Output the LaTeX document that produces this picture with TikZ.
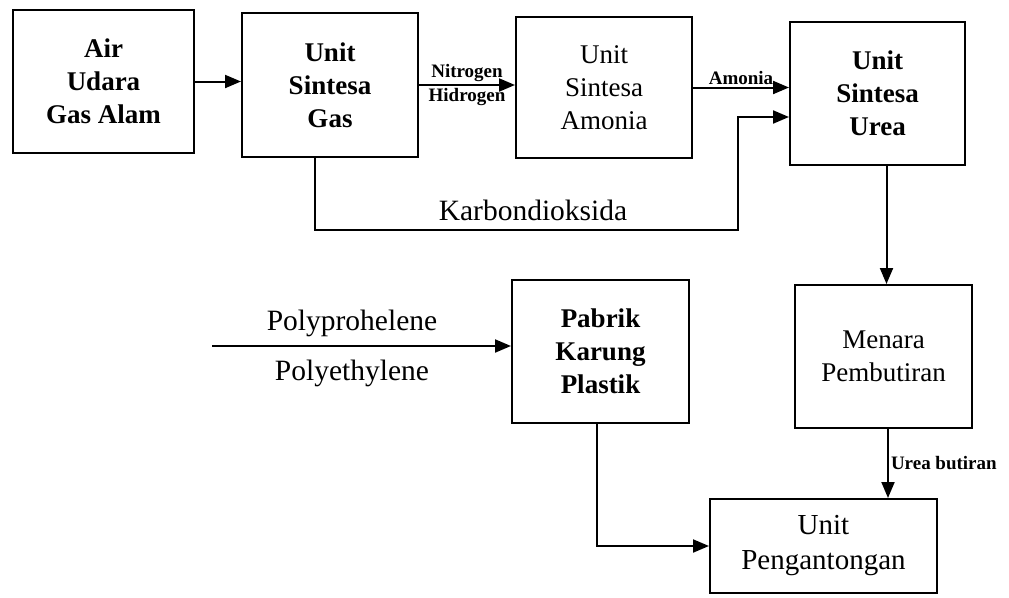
\documentclass[tikz,border=0pt]{standalone}
\usepackage{fontspec}
\setmainfont{Liberation Serif}
\usetikzlibrary{arrows.meta,calc}
\newcommand{\boxfont}{\fontsize{27}{33}\selectfont}
\newcommand{\tagfont}{\fontsize{19}{21}\selectfont\bfseries}
\newcommand{\flowfont}{\fontsize{29.5}{30}\selectfont}

\begin{document}
\begin{tikzpicture}[x=1pt,y=-1pt,
  unit/.style={draw,line width=2pt,align=center,inner sep=0pt,font=\boxfont},
  flow/.style={line width=2pt,-{Triangle[length=16pt,width=13pt]}},
  tag/.style={font=\tagfont,inner sep=2pt}]
  \useasboundingbox (0,0) rectangle (1009,597);
  % units
  \node[unit,minimum width=181pt,minimum height=143pt,font=\boxfont\bfseries] (air) at (103.5,81.5) {Air\\Udara\\Gas Alam};
  \node[unit,minimum width=176pt,minimum height=144pt,font=\boxfont\bfseries] (gas) at (330,85) {Unit\\Sintesa\\Gas};
  \node[unit,minimum width=176pt,minimum height=141pt] (amonia) at (604,87.5) {Unit\\Sintesa\\Amonia};
  \node[unit,minimum width=175pt,minimum height=143pt,font=\boxfont\bfseries] (urea) at (877.5,93.5) {Unit\\Sintesa\\Urea};
  \node[unit,minimum width=177pt,minimum height=143pt] (menara) at (883.5,356.5) {Menara\\Pembutiran};
  \node[unit,minimum width=177pt,minimum height=143pt,font=\boxfont\bfseries] (karung) at (600.5,351.5) {Pabrik\\Karung\\Plastik};
  \node[unit,minimum width=227pt,minimum height=94pt,font=\fontsize{29}{35}\selectfont] (kantong) at (823.5,546) {Unit\\Pengantongan};
  \coordinate (kbend) at (738,230);
  \coordinate (polyin) at (212,346);
  % flows
  \draw[flow] (air.east) -- (air.east -| gas.west);
  \draw[flow] (gas.east) -- (gas.east -| amonia.west)
    node[tag,midway,above] {Nitrogen} node[tag,midway,below] {Hidrogen};
  \draw[flow] (amonia.east) -- (amonia.east -| urea.west) node[tag,midway,above] {Amonia};
  \draw[flow] ([xshift=-15pt]gas.south) |- (kbend) |- ([yshift=-23.5pt]urea.west);
  \node[font=\flowfont] (co2) at (533,210) {Karbondioksida};
  \draw[flow] ([xshift=9pt]urea.south) -- ([xshift=3pt]menara.north);
  \draw[flow] (polyin) -- (polyin -| karung.west);
  \node[font=\flowfont] (pp) at (352,323) {Polyprohelene};
  \node[font=\flowfont] (pe) at (352,373) {Polyethylene};
  \draw[flow] ([xshift=-3.5pt]karung.south) |- (kantong.west);
  \draw[flow] ([xshift=4.5pt]menara.south) -- ([xshift=4.5pt]menara.south |- kantong.north)
    node[tag,midway,right] {Urea butiran};
\end{tikzpicture}
\end{document}
